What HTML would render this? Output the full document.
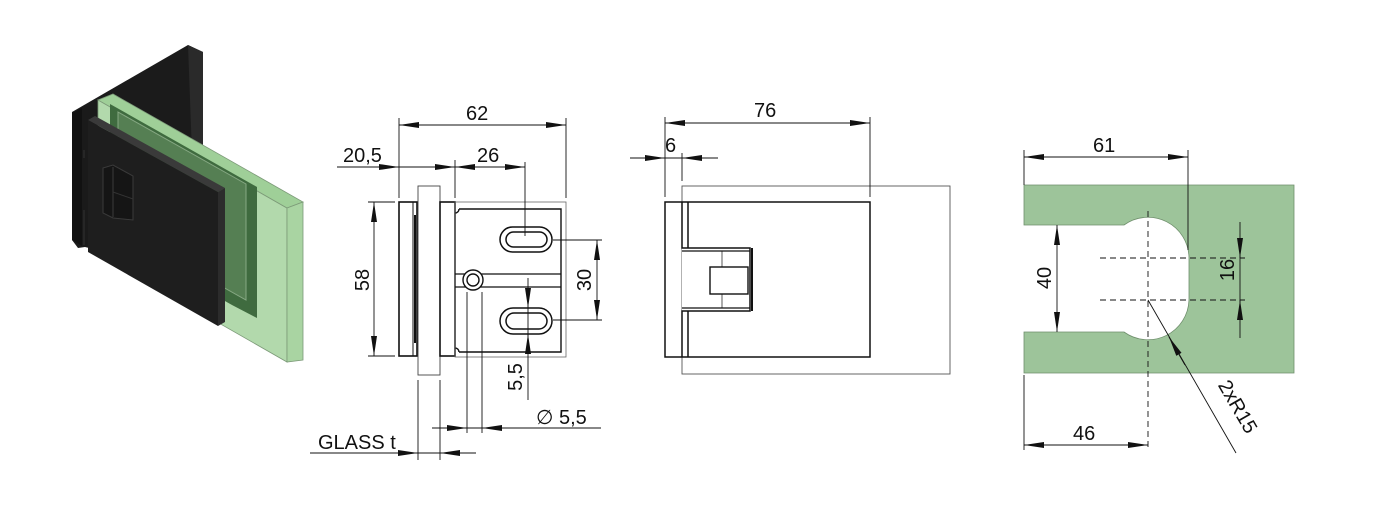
<!DOCTYPE html>
<html><head><meta charset="utf-8"><style>
html,body{margin:0;padding:0;background:#fff;}
svg{display:block;}
text{font-family:"Liberation Sans","DejaVu Sans",sans-serif;font-size:20px;fill:#111;}
</style></head><body>
<svg width="1376" height="530" viewBox="0 0 1376 530" xmlns="http://www.w3.org/2000/svg">
<defs>
<marker id="a" viewBox="0 0 20 8" refX="20" refY="4" markerWidth="20" markerHeight="8" markerUnits="userSpaceOnUse" orient="auto-start-reverse"><path d="M0,1 L20,4 L0,7 Z" fill="#111"/></marker>
</defs>

<!-- ISO VIEW -->
<polygon points="72,112 188,45 203,52 203,290 72,240" fill="#1b1b1b"/>
<polygon points="188,45 203,52 203,290 197,288" fill="#2a2a2a"/>
<polygon points="98,100 287,208 287,362 98,254" fill="#b2d9ac" stroke="#7c9a78" stroke-width="0.8"/>
<polygon points="98,100 113,94 303,202 287,208" fill="#9fcf98" stroke="#7c9a78" stroke-width="0.8"/>
<polygon points="287,208 303,202 303,360 287,362" fill="#a9d4a2" stroke="#7c9a78" stroke-width="0.8"/>
<polygon points="110,104 257,187 257,318 232,305 110,236" fill="#3f6b3f"/>
<polygon points="118,112 246,184 246,300 118,228" fill="#557f53" stroke="#86a883" stroke-width="1"/>
<polygon points="72,113 86,106 97,110 97,250 85,247 78,248 72,240" fill="#1a1a1a"/>
<polygon points="72,113 82,108 82,246 72,240" fill="#111"/>
<polygon points="88,120 95,116 225,188 218,192" fill="#3a3a3a"/>
<polygon points="88,120 218,192 218,326 88,252" fill="#1e1e1e"/>
<polygon points="218,192 225,188 225,322 218,326" fill="#2c2c2c"/>
<polygon points="103,168 113,165 133,176 133,220 113,218 103,213" fill="#151515" stroke="#3a3a3a" stroke-width="1"/>
<line x1="113" y1="167" x2="113" y2="217" stroke="#3a3a3a" stroke-width="1"/>
<line x1="113" y1="192" x2="133" y2="199" stroke="#333" stroke-width="1"/>
<line x1="84" y1="210" x2="84" y2="245" stroke="#333"/>
<line x1="84" y1="150" x2="84" y2="158" stroke="#333"/>

<!-- FRONT VIEW -->
<g stroke="#111" fill="none">
<rect x="399" y="202" width="18" height="154" stroke-width="1.6"/>
<line x1="413" y1="202" x2="413" y2="356" stroke-width="1"/>
<line x1="415" y1="215" x2="415" y2="343" stroke-width="2"/>
<rect x="418" y="186" width="22" height="189" stroke-width="0.9" stroke="#444"/>
<rect x="440" y="202" width="15" height="154" stroke-width="1.6"/>
<path d="M459,209 L561,209 L561,352 L459,352 M455,213 A4,4 0 0 0 459,209 M455,348 A4,4 0 0 1 459,352" stroke-width="1.4"/>
<rect x="455" y="202" width="111" height="155" stroke-width="0.8" stroke="#666"/>
<rect x="500" y="227" width="52" height="25" rx="12.5" stroke-width="1.5"/>
<rect x="506" y="232" width="41" height="15" rx="7.5" stroke-width="1.5"/>
<rect x="500" y="308" width="52" height="26" rx="13" stroke-width="1.5"/>
<rect x="506" y="313" width="41" height="16" rx="8" stroke-width="1.5"/>
<line x1="455" y1="274" x2="561" y2="274" stroke-width="1.3"/>
<line x1="455" y1="287" x2="561" y2="287" stroke-width="1.3"/>
<circle cx="473" cy="280" r="10" stroke-width="1.4" fill="#fff"/>
<circle cx="473" cy="280" r="6" stroke-width="1.4"/>
</g>
<g stroke="#111" stroke-width="0.9" fill="none">
<line x1="399" y1="118" x2="399" y2="198"/><line x1="566" y1="118" x2="566" y2="198"/>
<line x1="399" y1="125" x2="566" y2="125" marker-start="url(#a)" marker-end="url(#a)"/>
<line x1="337" y1="167" x2="399" y2="167" marker-end="url(#a)"/>
<line x1="399" y1="167" x2="525" y2="167"/>
<line x1="435" y1="167" x2="455" y2="167" marker-end="url(#a)"/>
<line x1="505" y1="167" x2="525" y2="167" marker-end="url(#a)"/>
<line x1="475" y1="167" x2="455" y2="167" marker-end="url(#a)"/>
<line x1="455" y1="160" x2="455" y2="198"/>
<line x1="525" y1="162" x2="525" y2="236"/>
<line x1="368" y1="202" x2="395" y2="202"/><line x1="368" y1="356" x2="395" y2="356"/>
<line x1="374" y1="202" x2="374" y2="356" marker-start="url(#a)" marker-end="url(#a)"/>
<line x1="553" y1="240" x2="602" y2="240"/><line x1="553" y1="320" x2="602" y2="320"/>
<line x1="597" y1="240" x2="597" y2="320" marker-start="url(#a)" marker-end="url(#a)"/>
<line x1="528" y1="278" x2="528" y2="400"/>
<line x1="528" y1="290" x2="528" y2="308" marker-end="url(#a)"/>
<line x1="528" y1="352" x2="528" y2="334" marker-end="url(#a)"/>
<line x1="467" y1="292" x2="467" y2="433"/><line x1="482" y1="292" x2="482" y2="433"/>
<line x1="432" y1="428" x2="601" y2="428"/>
<line x1="445" y1="428" x2="467" y2="428" marker-end="url(#a)"/>
<line x1="504" y1="428" x2="482" y2="428" marker-end="url(#a)"/>
<line x1="418" y1="380" x2="418" y2="460"/><line x1="440" y1="380" x2="440" y2="460"/>
<line x1="310" y1="453" x2="476" y2="453"/>
<line x1="396" y1="453" x2="418" y2="453" marker-end="url(#a)"/>
<line x1="462" y1="453" x2="440" y2="453" marker-end="url(#a)"/>
</g>
<text x="466" y="120">62</text>
<text x="343" y="162">20,5</text>
<text x="477" y="162">26</text>
<text transform="translate(369,280) rotate(-90)" text-anchor="middle">58</text>
<text transform="translate(591,280) rotate(-90)" text-anchor="middle">30</text>
<text transform="translate(522,377) rotate(-90)" text-anchor="middle">5,5</text>
<text x="536" y="424">∅ 5,5</text>
<text x="318" y="449">GLASS t</text>

<!-- SIDE VIEW -->
<g stroke="#111" fill="none">
<rect x="682" y="186" width="268" height="188" stroke-width="0.9" stroke="#555"/>
<rect x="665" y="202" width="205" height="155" stroke-width="1.5" fill="none"/>
<path d="M682,202 V248 H750 V311 H682 V357" stroke-width="1.5" fill="#fff"/>
<path d="M688,202 V248 M688,311 V357" stroke-width="1.5"/>
<path d="M682,251 H750 M682,308 H750" stroke-width="1.2"/>
<line x1="752" y1="248" x2="752" y2="311" stroke-width="2"/>
<rect x="710" y="267" width="38" height="27" stroke-width="1.4"/>
<line x1="722" y1="251" x2="722" y2="267" stroke-width="0.7"/><line x1="722" y1="294" x2="722" y2="308" stroke-width="0.7"/>
</g>
<g stroke="#111" stroke-width="0.9" fill="none">
<line x1="665" y1="117" x2="665" y2="197"/><line x1="870" y1="117" x2="870" y2="197"/>
<line x1="665" y1="123" x2="870" y2="123" marker-start="url(#a)" marker-end="url(#a)"/>
<line x1="682" y1="153" x2="682" y2="181"/>
<line x1="630" y1="158" x2="718" y2="158"/>
<line x1="645" y1="158" x2="665" y2="158" marker-end="url(#a)"/>
<line x1="702" y1="158" x2="682" y2="158" marker-end="url(#a)"/>
</g>
<text x="754" y="117">76</text>
<text x="665" y="152">6</text>

<!-- RIGHT SECTION -->
<path d="M1024,185 H1294 V373 H1024 V332 H1124 A41,41 0 0 0 1189,300 V258 A41,41 0 0 0 1124,225 H1024 Z" fill="#9dc49a" stroke="#6f8f6c" stroke-width="0.8"/>
<g stroke="#111" stroke-width="0.9" fill="none">
<line x1="1148" y1="211" x2="1148" y2="450" stroke-dasharray="6,4"/>
<line x1="1100" y1="258" x2="1245" y2="258" stroke-dasharray="6,4"/>
<line x1="1100" y1="300" x2="1245" y2="300" stroke-dasharray="6,4"/>
<line x1="1024" y1="150" x2="1024" y2="185"/><line x1="1024" y1="375" x2="1024" y2="450"/>
<line x1="1188" y1="150" x2="1188" y2="250"/>
<line x1="1024" y1="157" x2="1188" y2="157" marker-start="url(#a)" marker-end="url(#a)"/>
<line x1="1024" y1="445" x2="1148" y2="445" marker-start="url(#a)" marker-end="url(#a)"/>
<line x1="1057" y1="225" x2="1057" y2="332" marker-start="url(#a)" marker-end="url(#a)"/>
<line x1="1240" y1="222" x2="1240" y2="338"/>
<line x1="1240" y1="238" x2="1240" y2="258" marker-end="url(#a)"/>
<line x1="1240" y1="320" x2="1240" y2="300" marker-end="url(#a)"/>
<line x1="1236" y1="453" x2="1148" y2="300"/>
<line x1="1185" y1="365" x2="1169" y2="337" marker-end="url(#a)"/>
</g>
<text x="1093" y="152">61</text>
<text x="1073" y="440">46</text>
<text transform="translate(1051,278) rotate(-90)" text-anchor="middle">40</text>
<text transform="translate(1234,270) rotate(-90)" text-anchor="middle">16</text>
<text transform="translate(1232,410) rotate(60)" text-anchor="middle">2xR15</text>
</svg>
</body></html>
